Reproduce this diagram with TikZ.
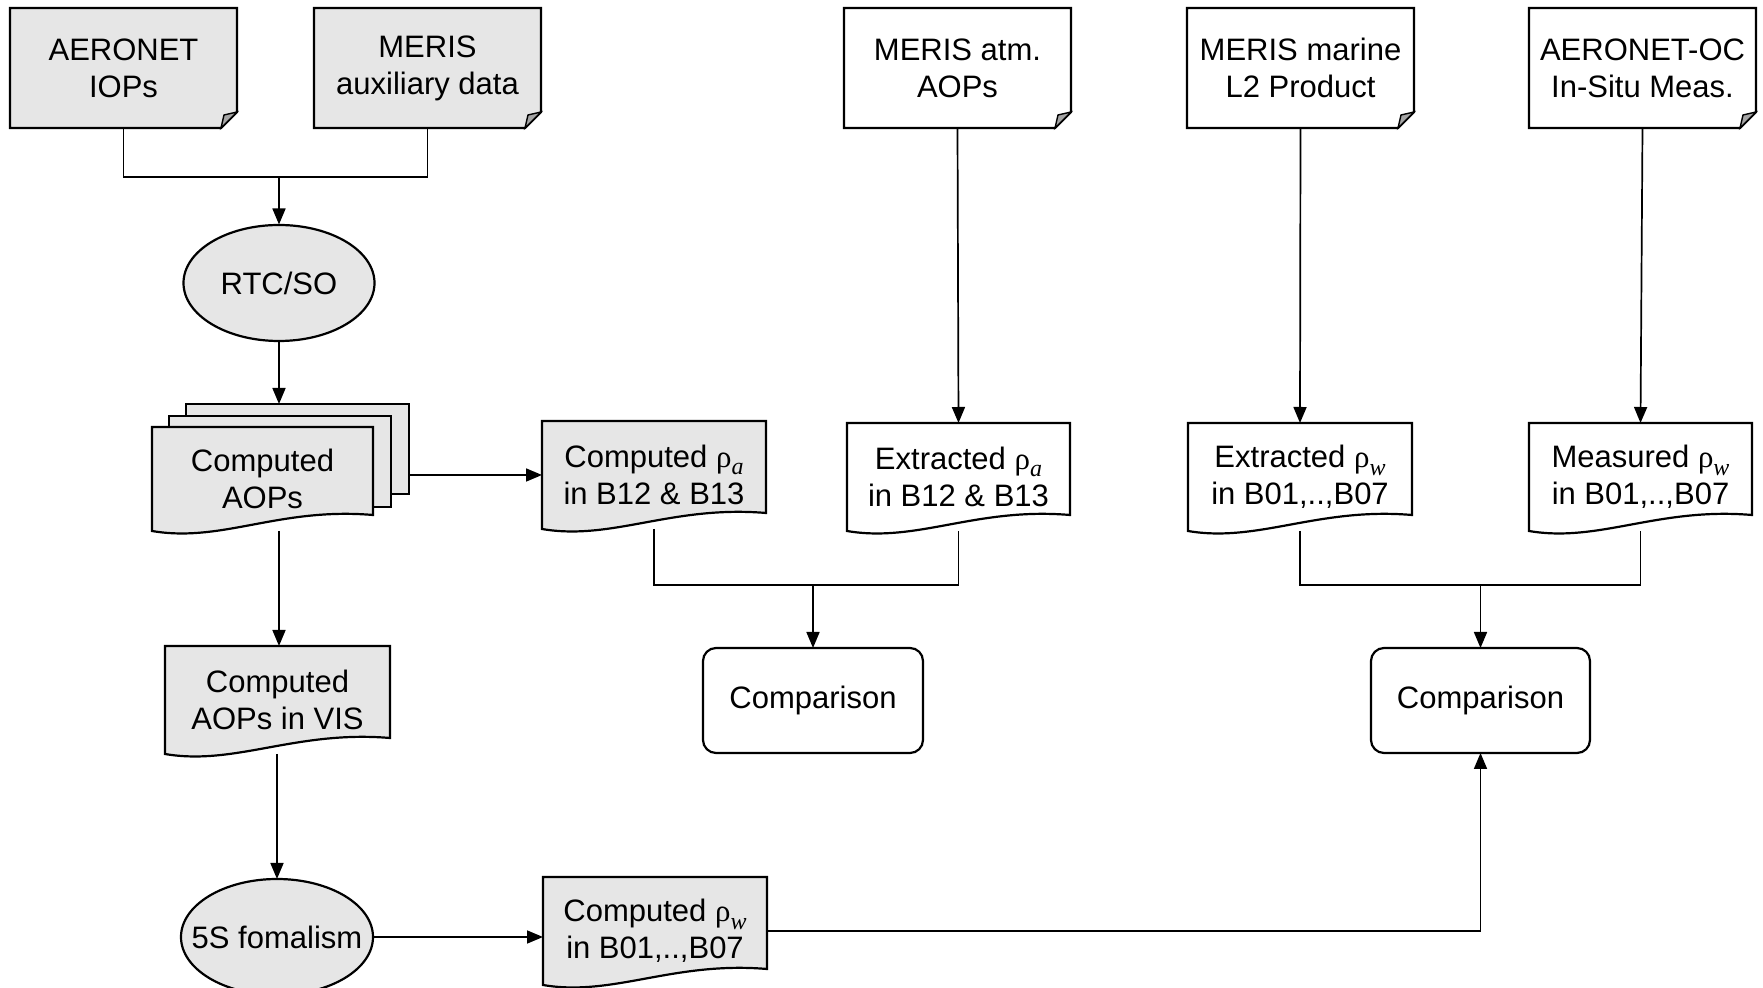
\documentclass[tikz,border=0pt]{standalone}
\usepackage{fontspec}
\setmainfont{Liberation Sans}
\newfontfamily\rhofont{Liberation Serif}
\usetikzlibrary{calc,shapes.geometric,arrows.meta}
\definecolor{boxgray}{RGB}{230,230,230}
\definecolor{foldgray}{RGB}{165,165,165}
\pgfdeclarelayer{bg}
\pgfdeclarelayer{shp}
\pgfsetlayers{bg,shp,main}
\newcommand\rhos[1]{{\rhofont ρ}\raisebox{-0.45ex}{\rhofont\itshape\fontsize{12}{12}\selectfont #1}}
\tikzset{
  lbl/.style={inner sep=0pt, outer sep=0pt, align=center, anchor=north west,
    font=\fontsize{15.5}{18.5}\selectfont},
  shapeline/.style={draw=black, line width=1.1pt, line join=miter},
  conn/.style={draw=black, line width=0.85pt},
  arr/.style={conn, -{Triangle[length=8pt,width=6.5pt]}},
  notebox/.style={lbl, minimum width=113.5pt, minimum height=60pt},
  docbox/.style={lbl, minimum height=54pt},
  ellbox/.style={lbl, anchor=center},
  cmpbox/.style={lbl, rectangle, rounded corners=6.5pt, draw=black, line width=1.1pt,
    fill=white, minimum width=110pt, minimum height=52.5pt},
  sheet/.style={lbl}
}
\newcommand\noteshape[2]{%
  \begin{pgfonlayer}{shp}
  \draw[shapeline, fill=#2] (#1.north west) -- (#1.north east) -- ($(#1.south east)+(0,-16)$)
     -- ($(#1.south east)+(-16,0)$) -- (#1.south west) -- cycle;
  \draw[shapeline, line width=0.7pt, fill=foldgray] ($(#1.south east)+(0,-16)$) -- ($(#1.south east)+(-13,-13)$)
     -- ($(#1.south east)+(-16,0)$) -- cycle;
  \end{pgfonlayer}}
\newcommand\docshape[2]{%
  \begin{pgfonlayer}{shp}
  \draw[shapeline, fill=#2] (#1.north west) -- (#1.north east) -- ($(#1.south east)+(0,-16)$)
     .. controls ($(#1.south east)+(-94,-24)$) and ($(#1.south west)+(70,12)$) .. (#1.south west) -- cycle;
  \end{pgfonlayer}}
\newcommand\sheetshape[1]{%
  \begin{pgfonlayer}{shp}
  \draw[shapeline, fill=boxgray] (#1.north west) rectangle (#1.south east);
  \end{pgfonlayer}}
\newcommand\ellshape[3]{% name, x radius, y radius (px)
  \begin{pgfonlayer}{shp}
  \draw[shapeline, fill=boxgray] (#1.center) ellipse [x radius=#2, y radius=#3];
  \end{pgfonlayer}}
\begin{document}
\begin{tikzpicture}[x=0.5pt,y=-0.5pt]
\useasboundingbox (0,0) rectangle (1763,988);
% top notes
\node[notebox] (aer) at (10,8) {AERONET\\IOPs};
\noteshape{aer}{boxgray}
\node[notebox] (maux) at (314,8) {MERIS\\auxiliary data};
\noteshape{maux}{boxgray}
\node[notebox] (matm) at (844,8) {MERIS atm.\\AOPs};
\noteshape{matm}{white}
\node[notebox] (mmar) at (1187,8) {MERIS marine\\L2 Product};
\noteshape{mmar}{white}
\node[notebox] (aoc) at (1529,8) {AERONET-OC\\In-Situ Meas.};
\noteshape{aoc}{white}
% RTC/SO
\node[ellbox, minimum width=95.5pt, minimum height=58.5pt] (rtc) at (279,283) {RTC/SO};
\ellshape{rtc}{95.5}{58}
% stack
\node[sheet, minimum width=111.5pt, minimum height=45pt] (aops3) at (186,404) {};
\sheetshape{aops3}
\node[sheet, minimum width=111pt, minimum height=45.5pt] (aops2) at (169,416) {};
\sheetshape{aops2}
\node[docbox, minimum width=110.5pt, minimum height=52pt] (aops) at (152,427) {Computed\\AOPs};
\docshape{aops}{boxgray}
% documents
\node[docbox, minimum width=112pt] (cra) at (542,421) {Computed \rhos{a}\\in B12 \& B13};
\docshape{cra}{boxgray}
\node[docbox, minimum width=111.5pt] (exa) at (847,423) {Extracted \rhos{a}\\in B12 \& B13};
\docshape{exa}{white}
\node[docbox, minimum width=112pt] (exw) at (1188,423) {Extracted \rhos{w}\\in B01,..,B07};
\docshape{exw}{white}
\node[docbox, minimum width=111.5pt] (mew) at (1529,423) {Measured \rhos{w}\\in B01,..,B07};
\docshape{mew}{white}
\node[docbox, minimum width=112.5pt] (vis) at (165,646) {Computed\\AOPs in VIS};
\docshape{vis}{boxgray}
\node[docbox, minimum width=112pt] (crw) at (543,877) {Computed \rhos{w}\\in B01,..,B07};
\docshape{crw}{boxgray}
% comparisons
\node[cmpbox] (cmp1) at (703,648) {Comparison};
\node[cmpbox, minimum width=109.5pt] (cmp2) at (1371,648) {Comparison};
% 5S
\node[ellbox, minimum width=96pt, minimum height=58pt] (fives) at (277,937) {5S fomalism};
\ellshape{fives}{96}{58}
% junction coordinates
\coordinate (j1) at (279,177);
\coordinate (j2) at (813,585);
\coordinate (j3) at (1480.5,585);
% connectors
\begin{pgfonlayer}{bg}
\draw[conn] (aer.south) |- (j1) -| (maux.south);
\draw[arr] (j1) -- (rtc.north);
\draw[arr] (rtc.south) -- (aops3.north -| rtc.south);
\draw[arr] (aops3.east |- cra.west) -- (cra.west);
\draw[arr] (aops.south -| rtc.south) -- (vis.north -| rtc.south);
\draw[arr] (vis.south -| fives.north) -- (fives.north);
\draw[arr] (fives.east) -- (fives.east -| crw.west);
\draw[arr] (crw.east) -| (cmp2.south);
\draw[arr] (matm.south) -- (exa.north);
\draw[arr] (mmar.south) -- (exw.north);
\draw[arr] (aoc.south) -- (mew.north);
\draw[conn] (cra.south) |- (j2) -| (exa.south);
\draw[arr] (j2) -- (cmp1.north);
\draw[conn] (exw.south) |- (j3) -| (mew.south);
\draw[arr] (j3) -- (cmp2.north);
\end{pgfonlayer}
\end{tikzpicture}
\end{document}
